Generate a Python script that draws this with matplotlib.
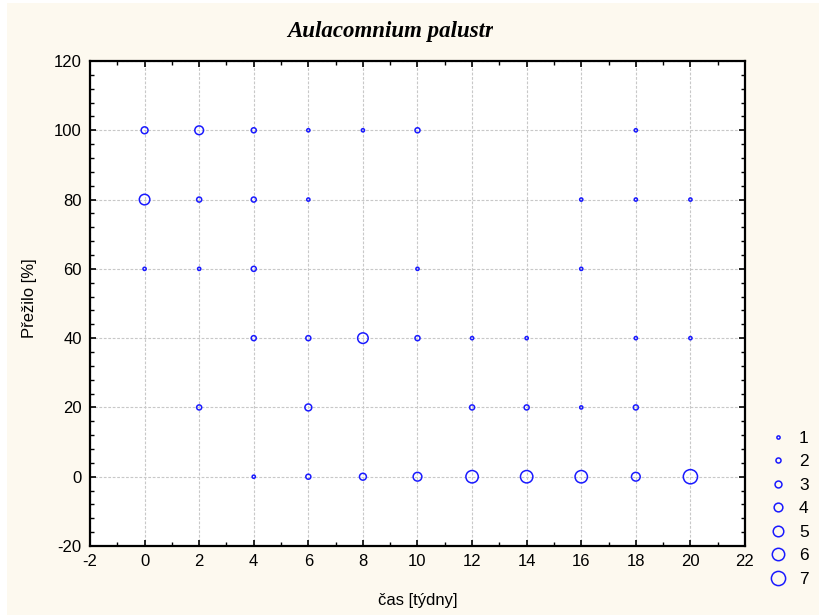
import matplotlib
matplotlib.use("Agg")
import matplotlib.pyplot as plt
from matplotlib.patches import Rectangle
from matplotlib.lines import Line2D
from matplotlib.transforms import Bbox, TransformedBbox
from matplotlib.ticker import MultipleLocator

plt.rcParams["axes.unicode_minus"] = False

# Data: time (weeks), survival (%), count (bubble size category)
time_weeks = [0, 0, 0,
              2, 2, 2, 2,
              4, 4, 4, 4, 4,
              6, 6, 6, 6, 6,
              8, 8, 8,
              10, 10, 10, 10,
              12, 12, 12,
              14, 14, 14,
              16, 16, 16, 16,
              18, 18, 18, 18, 18,
              20, 20, 20]
survived = [100, 80, 60,
            100, 80, 60, 20,
            100, 80, 60, 40, 0,
            100, 80, 40, 20, 0,
            100, 40, 0,
            100, 60, 40, 0,
            40, 20, 0,
            40, 20, 0,
            80, 60, 20, 0,
            100, 80, 40, 20, 0,
            80, 40, 0]
counts = [3, 5, 1,
          4, 2, 1, 2,
          2, 2, 2, 2, 1,
          1, 1, 2, 3, 2,
          1, 5, 3,
          2, 1, 2, 4,
          1, 2, 6,
          1, 2, 6,
          1, 1, 1, 6,
          1, 1, 1, 2, 4,
          1, 1, 7]
legend_levels = [1, 2, 3, 4, 5, 6, 7]

title = "Aulacomnium palustre"
xlabel = "čas [týdny]"
ylabel = "Přežilo [%]"

W, H = 820, 615
fig = plt.figure(figsize=(W / 100, H / 100), dpi=100)
fig.patch.set_facecolor("white")
cream = "#fdf9ef"
fig.patches.append(Rectangle((7 / W, 0), 1 - 7 / W, 1 - 3 / H, transform=fig.transFigure,
                             facecolor=cream, edgecolor="none", zorder=-10))

ax = fig.add_axes([90 / W, 1 - 546 / H, (745 - 90) / W, (546 - 61) / H])
ax.set_facecolor("white")


def msize(n):
    return 1.0 + 1.32 * n


blue = "#1a1aff"
ax.scatter(time_weeks, survived, s=[msize(c) ** 2 for c in counts],
           facecolors="none", edgecolors=blue, linewidths=1.1, zorder=3, clip_on=False)

ax.set_xlim(-2, 22)
ax.set_ylim(-20, 120)
ax.xaxis.set_major_locator(MultipleLocator(2))
ax.xaxis.set_minor_locator(MultipleLocator(1))
ax.yaxis.set_major_locator(MultipleLocator(20))
ax.yaxis.set_minor_locator(MultipleLocator(4))
ax.tick_params(which="both", direction="in", top=True, right=True, color="black",
               labelsize=12, labelfontfamily="Liberation Sans")
ax.tick_params(which="major", length=4, width=1.2, pad=6)
ax.tick_params(which="minor", length=3, width=1.0)
for sp in ax.spines.values():
    sp.set_linewidth(1.6)
    sp.set_color("black")
ax.grid(True, which="major", color="#c8c8c8", linestyle=(0, (2.5, 1.5)), linewidth=0.8, zorder=0)
ax.set_axisbelow(True)

fig.text(418 / W, 1 - 600 / H, xlabel, ha="center", va="center", fontsize=12,
         family="Liberation Sans")
fig.text(30 / W, 1 - 298 / H, ylabel, ha="center", va="center", rotation=90, fontsize=12,
         family="Liberation Sans")

t = fig.text(287 / W, 1 - 31 / H, title, ha="left", va="center", fontsize=16.5,
             family="Liberation Serif", style="italic", weight="bold")
t.set_clip_on(True)
t.set_clip_box(TransformedBbox(Bbox.from_extents(0, 0, 493 / W, 1), fig.transFigure))

handles = [Line2D([], [], linestyle="none", marker="o", markersize=msize(n),
                  markerfacecolor="none", markeredgecolor=blue, markeredgewidth=1.1)
           for n in legend_levels]
leg = fig.legend(handles, [str(n) for n in legend_levels], loc="upper left",
                 bbox_to_anchor=(759 / W, 1 - 422 / H), frameon=False,
                 prop={"family": "Liberation Sans", "size": 12.5}, handlelength=1.2,
                 handletextpad=0.6, labelspacing=0.48, borderpad=0)

fig.savefig("out.png", dpi=100, facecolor=fig.get_facecolor())
